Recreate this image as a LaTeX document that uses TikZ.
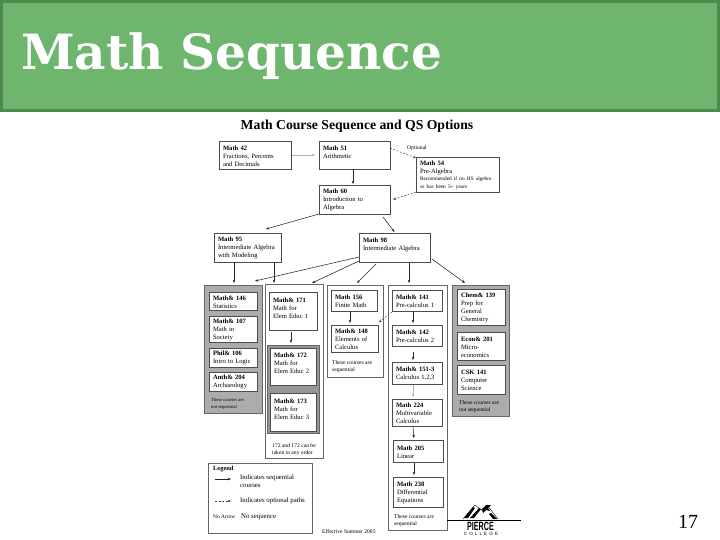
\documentclass[tikz,border=0pt]{standalone}
\usepackage{fontspec}
\setmainfont{Liberation Serif}
\newfontfamily\headfont{DejaVu Serif}
\newfontfamily\logofont{Liberation Sans}
\newfontfamily\logospaced[LetterSpace=45]{Liberation Sans}
\usetikzlibrary{arrows.meta}
\definecolor{slidegreen}{RGB}{110,182,110}
\definecolor{slideedge}{RGB}{79,138,80}
\definecolor{groupgray}{RGB}{172,172,172}
\definecolor{doublegray}{RGB}{150,150,150}

\begin{document}
\begin{tikzpicture}[
    x=1pt, y=-1pt,
    cbox/.style n args={2}{draw=black!70, fill=white, line width=0.8pt, anchor=north west, outer sep=0pt,
        inner xsep=4pt, inner ysep=0pt, align=left, text width=#1pt-8pt, minimum height=#2pt,
        font=\fontsize{6.6}{8}\selectfont, execute at begin node={\rule{0pt}{6.2pt}}},
    groupbox/.style n args={2}{draw=black!60, line width=0.7pt, anchor=north west, outer sep=0pt,
        inner sep=0pt, minimum width=#1pt, minimum height=#2pt},
    note/.style={anchor=north west, align=left, inner sep=0pt, font=\fontsize{5.6}{7.4}\selectfont},
    legendtext/.style={note, font=\fontsize{6.8}{8}\selectfont},
    link/.style={-{Stealth[length=3.2pt,width=2.6pt]}, line width=0.55pt, black!85},
    faded/.style={-{Stealth[length=3.2pt,width=2.6pt]}, line width=0.7pt, black!30},
    optional/.style={-{Stealth[length=3.2pt,width=2.6pt]}, line width=0.5pt, black!70, dash pattern=on 2pt off 1.5pt}
]
\useasboundingbox (0,0) rectangle (720,540);
\fill[white] (0,0) rectangle (720,540);
% slide heading
\node[draw=slideedge, fill=slidegreen, line width=3pt, anchor=north west, outer sep=0pt, inner sep=0pt,
    minimum width=717pt, minimum height=109pt] (banner) at (1.5,1.5) {};
\node[anchor=base west, inner sep=0pt, text=white, font=\headfont\bfseries\fontsize{48.5}{50}\selectfont] (heading) at (21,70) {Math Sequence};
\node[inner sep=0pt, font=\bfseries\fontsize{13.7}{15}\selectfont] (chart) at (357,126) {Math Course Sequence and QS Options};

% top courses
\node[cbox={72}{28}] (m42) at (219,141) {\textbf{Math 42}\\Fractions, Percents\\and Decimals};
\node[cbox={71}{28}] (m51) at (319,141) {\textbf{Math 51}\\Arithmetic\\\mbox{}};
\node[cbox={83}{35}, font=\fontsize{6.6}{7.6}\selectfont] (m54) at (416,157) {\textbf{Math 54}\\Pre-Algebra\\{\fontsize{5.3}{7}\selectfont Recommended if no HS algebra\\or has been 5+ years}};
\node[cbox={71}{29}] (m60) at (319,185) {\textbf{Math 60}\\Introduction to\\Algebra};
\node[cbox={67}{29}] (m95) at (214,233) {\textbf{Math 95}\\Intermediate Algebra\\with Modeling};
\node[cbox={71}{29}] (m98) at (359,233) {\textbf{Math 98}\\Intermediate Algebra\\\mbox{}};
\node[anchor=west, inner sep=0pt, font=\fontsize{5.6}{7}\selectfont] (opt) at (407,148) {Optional};

% first group
\node[groupbox={58}{128}, fill=groupgray] (grpa) at (204,285) {};
\node[cbox={48}{18}] (m146) at (209,292) {\textbf{Math\& 146}\\Statistics};
\node[cbox={48}{26}] (m107) at (209,316) {\textbf{Math\& 107}\\Math in\\Society};
\node[cbox={48}{19}] (p106) at (209,348) {\textbf{Phil\& 106}\\Intro to Logic};
\node[cbox={48}{19}] (a204) at (209,372) {\textbf{Anth\& 204}\\Archaeology};
\node[note, font=\fontsize{4.6}{7}\selectfont] (notea) at (211,398) {These courses are\\not sequential};

% second group
\node[groupbox={58}{174}, fill=white] (grpb) at (265,284) {};
\node[cbox={48}{38}] (m171) at (269,292) {\textbf{Math\& 171}\\Math for\\Elem Educ 1\\\mbox{}};
\node[groupbox={52}{88}, fill=doublegray, line width=1pt] (pair) at (267,345) {};
\node[cbox={46}{37}] (m172) at (270,348) {\textbf{Math\& 172}\\Math for\\Elem Educ 2\\\mbox{}};
\node[cbox={46}{38}] (m173) at (270,393) {\textbf{Math\& 173}\\Math for\\Elem Educ 3\\\mbox{}};
\node[note] (noteb) at (272,443) {172 and 172 can be\\taken in any order};

% third group
\node[groupbox={56}{92}, fill=white] (grpc) at (327,285) {};
\node[cbox={46}{21}] (m156) at (331,290) {\textbf{Math 156}\\Finite Math};
\node[cbox={47}{27}] (m148) at (331,325) {\textbf{Math\& 148}\\Elements of\\Calculus};
\node[note] (notec) at (332,360) {These courses are\\sequential};

% fourth group
\node[groupbox={59}{245}, fill=white] (grpd) at (388,285) {};
\node[cbox={50}{21}] (m141) at (392,290) {\textbf{Math\& 141}\\Pre-calculus 1};
\node[cbox={50}{21}] (m142) at (392,325) {\textbf{Math\& 142}\\Pre-calculus 2};
\node[cbox={50}{22}] (m151) at (392,362) {\textbf{Math\& 151-3}\\Calculus 1,2,3};
\node[cbox={50}{27}] (m224) at (392,399) {\textbf{Math 224}\\Multivariable\\Calculus};
\node[cbox={50}{22}] (m205) at (393,440) {\textbf{Math 205}\\Linear};
\node[cbox={50}{30}] (m238) at (393,477) {\textbf{Math 238}\\Differential\\Equations};
\node[note] (noted) at (394,514) {These courses are\\sequential};

% fifth group
\node[groupbox={57}{131}, fill=groupgray] (grpe) at (452,285) {};
\node[cbox={48}{36}] (c139) at (457,289) {\textbf{Chem\& 139}\\Prep for\\General\\Chemistry};
\node[cbox={48}{28}] (e201) at (457,332) {\textbf{Econ\& 201}\\Micro-\\economics};
\node[cbox={48}{29}] (c141) at (457,365) {\textbf{CSK 141}\\Computer\\Science};
\node[note] (notee) at (459,400) {These courses are\\not sequential};

% legend
\node[groupbox={104}{70}, fill=white] (legend) at (208,463) {};
\node[note, font=\bfseries\fontsize{6.4}{7}\selectfont] (legtitle) at (213,466) {Legend};
\coordinate (solida) at (215,479);
\coordinate (solidb) at (231,479);
\coordinate (dasha) at (215,501);
\coordinate (dashb) at (231,501);
\node[legendtext] (legseq) at (240,474.5) {Indicates sequential\\courses};
\node[legendtext, anchor=west] (legopt) at (240,501) {Indicates optional paths};
\node[note, font=\fontsize{5.4}{7}\selectfont, anchor=west] (legno) at (213,517) {No Arrow};
\node[legendtext, anchor=west] (legnone) at (241,517) {No sequence};
\node[anchor=base west, inner sep=0pt, font=\fontsize{5.6}{7}\selectfont] (effective) at (322,533) {Effective Summer 2005};

% connectors
\draw[faded, shorten >=4pt, shorten <=1pt] (m42) -- (m51);
\draw[optional] ([yshift=7pt]m51.east) -- ([yshift=-1pt]m54.north west);
\draw[optional] (m54.south west) -- ([xshift=3pt]m60.east);
\draw[link, shorten >=1pt] ([xshift=-1.5pt]m51.south) -- ([xshift=-1.5pt]m60.north);
\draw[link] (m60.south west) -- ([xshift=-15pt,yshift=4pt]m95.north east);
\draw[link] ([xshift=-7pt,yshift=-3pt]m60.south east) -- ([yshift=1pt]m98.north);
\draw[link] ([xshift=-13.5pt]m95.south) -- ([xshift=-13.5pt,yshift=2pt]m95.south |- grpa.north);
\draw[link] ([xshift=26.5pt]m95.south) -- ([xshift=26.5pt,yshift=2pt]m95.south |- grpa.north);
\draw[link] ([yshift=-9.5pt]m98.west) -- ([xshift=-7pt,yshift=4pt]grpa.north east);
\draw[link] ([yshift=1pt]m98.south west) -- ([xshift=-11pt,yshift=1pt]grpb.north east);
\draw[link] ([xshift=17pt,yshift=-2pt]m98.south west) -- ([xshift=2pt,yshift=2pt]grpc.north);
\draw[link] ([xshift=14.5pt,yshift=-1pt]m98.south) -- ([xshift=14.5pt,yshift=2pt]m98.south |- grpd.north);
\draw[link] ([xshift=2pt,yshift=3pt]m98.south east) -- ([xshift=-15.5pt,yshift=2pt]grpe.north);
\draw[link, shorten >=2pt, shorten <=2pt] ([xshift=-2pt]m171.south) -- ([xshift=-2pt]m171.south |- pair.north);
\draw[link, shorten >=2pt, shorten <=1pt] ([xshift=-4pt]m156.south) -- ([xshift=-4.5pt]m148.north);
\draw[optional, shorten >=1pt] ([yshift=-1pt]m141.south west) -- ([yshift=2pt]m148.north east);
\draw[link, shorten >=2pt, shorten <=1pt] ([xshift=-4pt]m141.south) -- ([xshift=-4pt]m142.north);
\draw[link, shorten >=2pt, shorten <=6pt] ([xshift=-4pt]m142.south) -- ([xshift=-4pt]m151.north);
\draw[faded, shorten >=2pt, shorten <=1pt] ([xshift=-4pt]m151.south) -- ([xshift=-4pt]m224.north);
\draw[link, shorten >=2pt, shorten <=1pt] ([xshift=-4pt]m224.south) -- ([xshift=-4pt]m205.north);
\draw[link, shorten >=2pt, shorten <=1pt] ([xshift=-4pt]m205.south) -- ([xshift=-4pt]m238.north);
\draw[link] (solida) -- (solidb);
\draw[optional] (dasha) -- (dashb);

% college mark
\draw[line width=0.9pt] (447,520) -- (521,520);
\draw[line width=0.4pt] (463,519) -- (475,505) -- (481,510) -- (487,505) -- (498,519);
\fill (464,518) -- (473,507) -- (475,508) -- (468,518) -- cycle;
\fill (470,518) -- (479,508) -- (481,509) -- (474,518) -- cycle;
\fill (482,510) -- (486,505) -- (491,505) -- (488,508) -- (490,511) -- (486,510) -- (483,513) -- cycle;
\fill (489,514) -- (491,513) -- (497,519) -- (493,519) -- cycle;
\node[inner sep=0pt, anchor=north, xscale=0.6, font=\logofont\bfseries\fontsize{12}{12}\selectfont] (pierce) at (480.5,521.5) {PIERCE};
\node[inner sep=0pt, anchor=north, font=\logospaced\fontsize{4.6}{5}\selectfont] (college) at (481,532.5) {COLLEGE};
\node[inner sep=0pt, font=\fontsize{20}{22}\selectfont] (slideno) at (688,522) {17};
\end{tikzpicture}
\end{document}
